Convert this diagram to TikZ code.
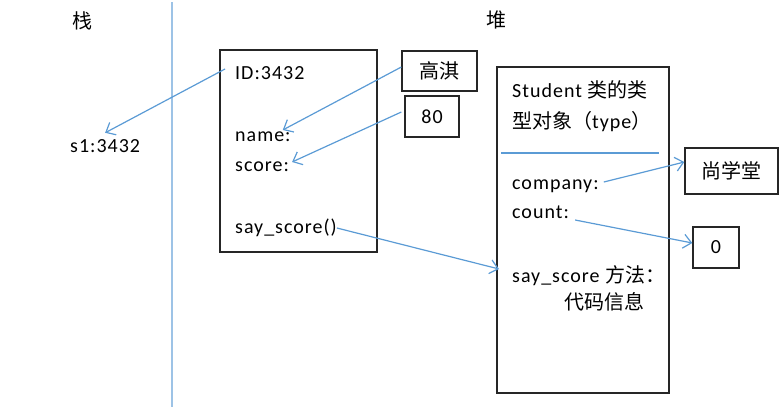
\documentclass[tikz,border=0pt]{standalone}
\usepackage{fontspec}
\setmainfont{Carlito}[LetterSpace=5]
\newfontfamily\cjk{Noto Sans CJK SC}
\usetikzlibrary{arrows.meta, positioning}
\definecolor{lanse}{HTML}{5B9BD5}
\definecolor{lanqian}{HTML}{9DC3E6}
\definecolor{biankuang}{HTML}{262626}
\newcommand{\zh}[1]{{\cjk #1}}

\begin{document}
\begin{tikzpicture}[
  x=1pt, y=-1pt,
  font=\fontsize{20}{24}\selectfont,
  kuang/.style={draw=biankuang, line width=1.3pt, inner sep=0pt},
  wenzi/.style={anchor=base west, inner sep=0pt, text height=14pt, text depth=4pt},
  ptr/.style={-{Straight Barb[length=8pt,width=14pt]}, lanse, line width=1.2pt},
  fenjie/.style={lanqian, line width=1.8pt},
]
\useasboundingbox (0,0) rectangle (780,407);

% --- Titel: stack / heap ---
\node[wenzi] (zhan) at (72,28) {\zh{栈}};
\node[wenzi] (dui)  at (486,27) {\zh{堆}};
\draw[fenjie] (172,2) -- (172,407);

% --- Stack ---
\node[wenzi] (s1) at (70,152) {s1:3432};

% --- Instanzobjekt ---
\node[kuang, minimum width=157pt, minimum height=202pt] (obj) at (298.5,151) {};
\node[wenzi] (id)    at (235,79)  {ID:3432};
\node[wenzi] (name)  at (235,141) {name:};
\node[wenzi] (score) at (235,171) {score:};
\node[wenzi] (say)   at (235,233) {say\_score()};

% --- Werte ---
\node[kuang, minimum width=75pt, minimum height=40pt] (gq)  at (439.5,71)  {\zh{高淇}};
\node[kuang, minimum width=54pt, minimum height=41pt] (b80) at (432,116.5) {80};

% --- Typobjekt der Klasse ---
\node[kuang, minimum width=172pt, minimum height=326pt] (cls) at (583,230) {};
\node[wenzi] (tit1)    at (512,97)  {Student \zh{类的类}};
\node[wenzi] (tit2)    at (512,128) {\zh{型对象（}type\zh{）}};
\draw[lanse, line width=1.2pt] (501,153) -- (659,153);
\node[wenzi] (company) at (512,189) {company:};
\node[wenzi] (count)   at (512,218) {count:};
\node[wenzi] (ss2)     at (512,282) {say\_score \zh{方法：}};
\node[wenzi] (code)    at (564,309) {\zh{代码信息}};

\node[kuang, minimum width=93pt, minimum height=46pt] (sxt)  at (731.5,171) {\zh{尚学堂}};
\node[kuang, minimum width=46pt, minimum height=41pt] (zero) at (716,247.5) {0};

% --- Verweise ---
\draw[ptr] ([xshift=-10pt,yshift=5pt]id.west) -- ([yshift=5pt]s1.north);
\draw[ptr] ([yshift=4pt]gq.west) -- ([xshift=-8pt,yshift=6pt]name.east);
\draw[ptr] ([xshift=-3pt,yshift=4.5pt]b80.west) -- ([xshift=3pt,yshift=4pt]score.east);
\draw[ptr] (say.east) -- ([xshift=-13pt,yshift=8pt]ss2.west);
\draw[ptr] ([xshift=5pt,yshift=2pt]company.east) -- ([yshift=9pt]sxt.west);
\draw[ptr] ([xshift=6pt,yshift=-7pt]count.east) -- ([yshift=4.5pt]zero.west);

\end{tikzpicture}
\end{document}
